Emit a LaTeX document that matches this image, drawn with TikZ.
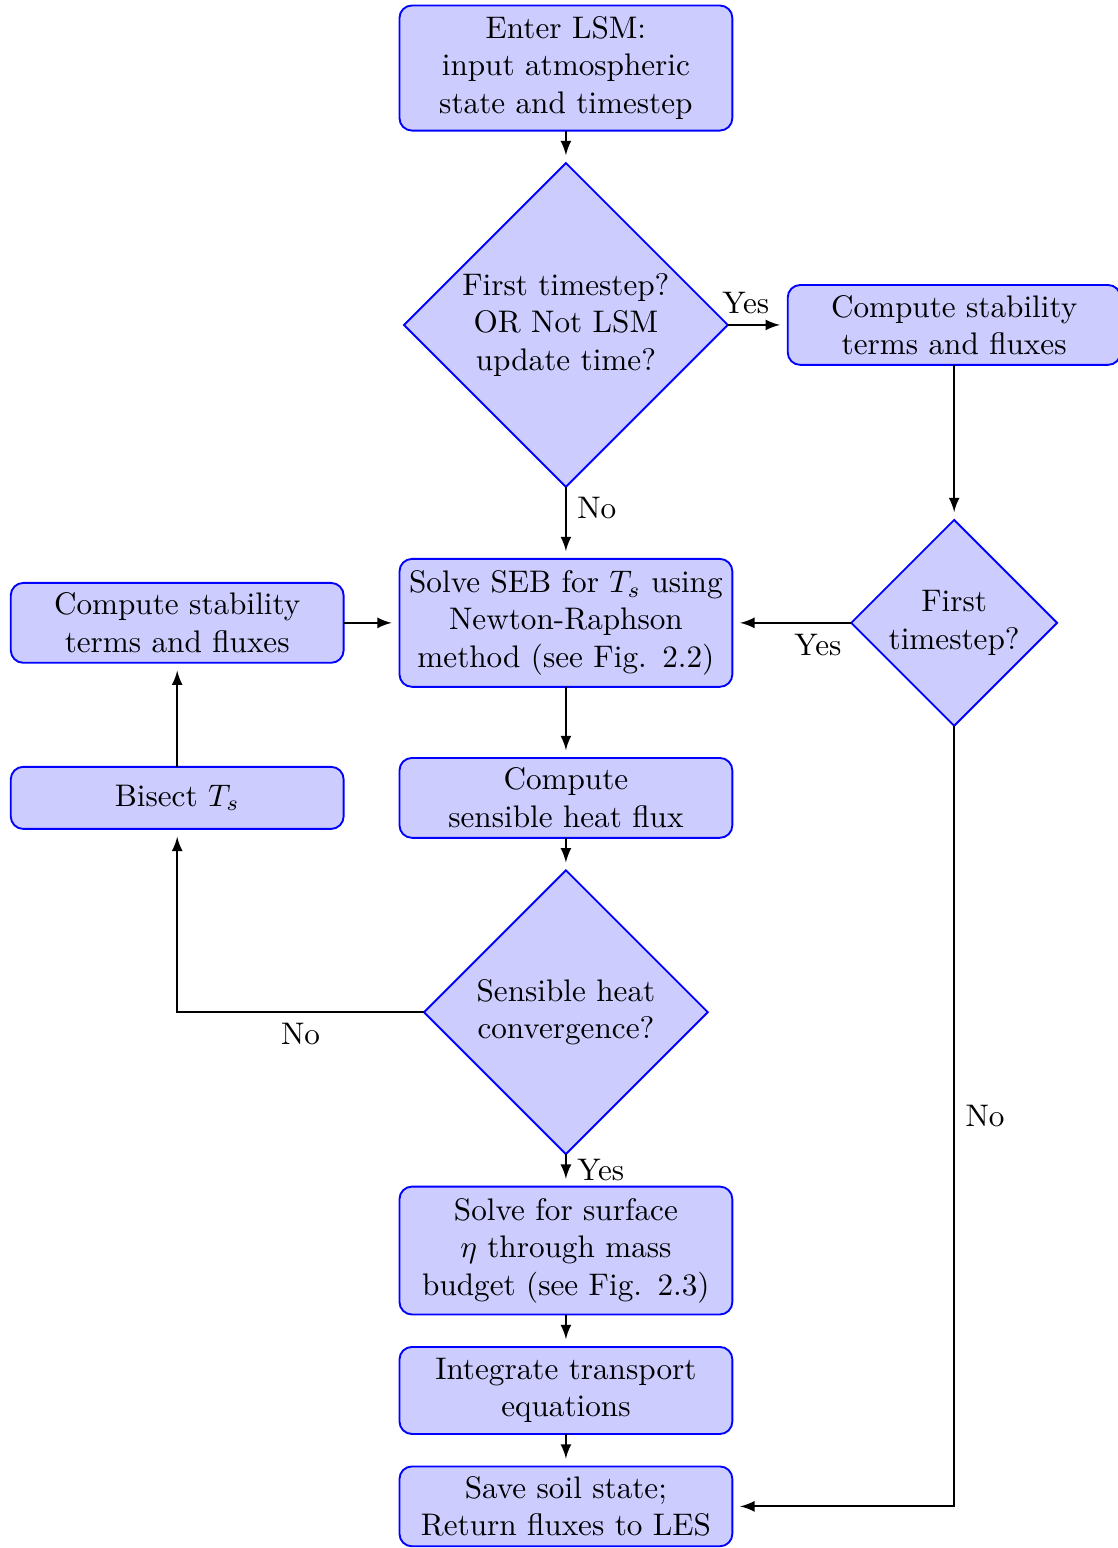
\documentclass[tikz,border=0pt]{standalone}
\usepackage{amsmath}
\usepackage{tikz}
\usetikzlibrary{positioning,shapes.geometric,arrows}

\begin{document}
\begin{tikzpicture}[
        node distance = 10.4pt,
        box/.style = {draw=blue, semithick, fill=blue!20, rounded corners, text width=103pt, align=center,
                      inner xsep=1.85pt, inner ysep=2pt, minimum height=25.6pt, outer sep=0pt},
        decision/.style = {diamond, draw=blue, semithick, fill=blue!20, align=center, inner sep=0pt, outer sep=0pt},
        line/.style = {draw, semithick, -latex, shorten >=2.5pt}
    ]
    \useasboundingbox (0,0) rectangle (358.3pt,-496.2pt);
        \node[box, minimum height=40.1pt] (enter) at (181.4pt,-21.8pt) {Enter LSM:\\ input atmospheric\\ state and timestep};
        \node[decision, minimum size=103.8pt] (first) [below=of enter] {First timestep?\\ OR Not LSM\\ update time?};
        \node[box] (stabR) [right=19.2pt of first] {Compute stability\\ terms and fluxes};
%
        \node[box, minimum height=41pt] (seb) [below=23.1pt of first] {Solve SEB for $T_s$ using\\ Newton-Raphson\\ method (see Fig. 2.2)};
        \node[decision, minimum size=66pt] (firstTwo) at (stabR |- seb) {First\\ timestep?};
        \node[box] (stabL) [left=17.9pt of seb] {Compute stability\\ terms and fluxes};
%
        \node[box] (sens) [below=22.8pt of seb] {Compute\\ sensible heat flux};
        \node[box, minimum height=19.9pt] (bisect) [left=17.9pt of sens] {Bisect $T_s$};
        \node[decision, minimum size=91pt] (conv) [below=of sens] {Sensible heat\\ convergence?};
%
        \node[box, minimum height=41pt] (surf) [below=of conv] {Solve for surface\\ $\eta$ through mass\\ budget (see Fig. 2.3)};
        \node[box, minimum height=27.9pt] (integ) [below=of surf] {Integrate transport\\ equations};
        \node[box] (save) [below=of integ] {Save soil state;\\ Return fluxes to LES};
%
        \draw[line] (enter) -- (first);
        \draw[line] (first) -- node[above, pos=0.3] {Yes} (stabR);
        \draw[line] (first) -- node[right, pos=0.3] {No} (seb);
        \draw[line] (stabR) -- (firstTwo);
        \draw[line] (firstTwo) -- node[below, pos=0.28] {Yes} (seb);
        \draw[line] (stabL) -- (seb);
        \draw[line] (seb) -- (sens);
        \draw[line] (sens) -- (conv);
        \draw[line] (conv) -| node[below, pos=0.25] {No} (bisect);
        \draw[line] (bisect) -- (stabL);
        \draw[line] (conv) -- node[right] {Yes} (surf);
        \draw[line] (surf) -- (integ);
        \draw[line] (integ) -- (save);
        \draw[line] (firstTwo) |- node[right, pos=0.25] {No} (save);
    \end{tikzpicture}
\end{document}
